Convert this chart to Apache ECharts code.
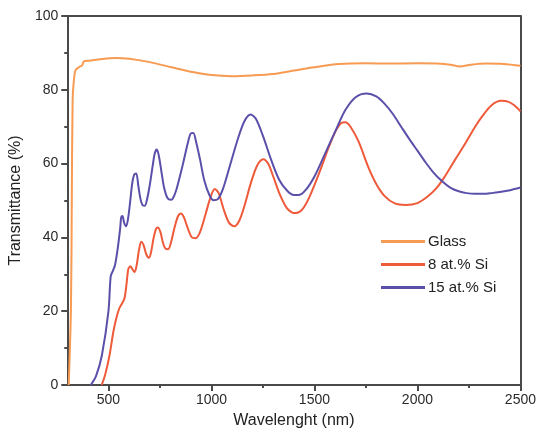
<!DOCTYPE html>
<html>
<head>
<meta charset="utf-8">
<script src="https://cdn.jsdelivr.net/npm/echarts@6/dist/echarts.min.js"></script>
<style>
  html, body { margin: 0; padding: 0; background: #fff; }
  #chart { width: 539px; height: 434px; }
</style>
</head>
<body>
<div id="chart"></div>
<script>
// Transmittance spectra (wavelength in nm, transmittance in %)
const glassWavelength = [307, 318, 322, 326, 333, 341, 362, 372, 381, 405, 450, 533, 600, 700, 800, 900, 1000, 1100, 1200, 1300, 1400, 1500, 1619, 1750, 1857, 2000, 2095, 2160, 2205, 2260, 2333, 2420, 2500];
const glassValues = [0, 21, 50, 77, 83, 85.4, 86.3, 86.6, 87.7, 87.9, 88.2, 88.6, 88.4, 87.5, 86.2, 84.9, 84.0, 83.7, 83.9, 84.3, 85.2, 86.1, 87.0, 87.2, 87.1, 87.2, 87.1, 86.8, 86.3, 86.8, 87.1, 87.0, 86.5];

const si8Wavelength = [467, 484, 505, 524, 540, 553, 565, 578, 588, 596, 606, 615, 627, 637, 648, 659, 670, 683, 696, 706, 718, 730, 740, 752, 765, 778, 790, 803, 820, 838, 852, 866, 885, 905, 924, 945, 970, 995, 1016, 1035, 1060, 1085, 1111, 1135, 1160, 1190, 1222, 1251, 1275, 1300, 1333, 1365, 1390, 1410, 1440, 1476, 1524, 1570, 1603, 1630, 1650, 1675, 1714, 1762, 1800, 1841, 1890, 1944, 2000, 2048, 2090, 2127, 2180, 2238, 2280, 2317, 2360, 2405, 2440, 2470, 2500];
const si8Values = [0, 2.8, 8, 14.5, 18.5, 20.8, 22, 23.5, 27.5, 31.3, 32.2, 31.5, 30.6, 32.5, 36.5, 38.8, 38, 35.5, 34.5, 35.8, 39.5, 42.2, 42.7, 41.5, 38.5, 36.9, 36.8, 38.5, 42.5, 45.8, 46.5, 45.5, 42.5, 40, 39.8, 41.5, 46, 50.8, 53.1, 52, 47.5, 44, 43, 44.5, 48.5, 54.5, 59.5, 61.2, 60, 56.5, 51.5, 48, 46.8, 46.6, 47.5, 51, 57.6, 64.5, 68.8, 71, 71.2, 70, 66, 59, 54.5, 51.2, 49.2, 48.8, 49.3, 51, 53.2, 56, 60.8, 66, 70, 73, 75.8, 77, 76.8, 75.8, 74.2];

const si15Wavelength = [414, 440, 468, 500, 511, 522, 532, 545, 557, 562, 568, 576, 586, 595, 605, 615, 625, 635, 645, 655, 665, 677, 688, 700, 715, 725, 735, 745, 758, 770, 785, 800, 812, 830, 860, 885, 900, 912, 925, 945, 965, 990, 1010, 1030, 1055, 1090, 1130, 1160, 1190, 1215, 1250, 1290, 1330, 1370, 1400, 1425, 1460, 1500, 1550, 1603, 1650, 1700, 1754, 1800, 1841, 1880, 1921, 1960, 2000, 2040, 2079, 2120, 2159, 2200, 2238, 2280, 2320, 2360, 2400, 2450, 2500];
const si15Values = [0, 2.5, 8, 20, 29.5, 31, 32.5, 37, 42.5, 45.5, 45.8, 44, 43, 45, 49.5, 54.5, 57, 57.3, 54, 50.5, 48.8, 48.6, 50.5, 54, 59.5, 62.8, 63.8, 62, 57.5, 53.5, 50.8, 50.2, 50.5, 53, 59.5, 65.5, 68.2, 68.3, 66, 61, 55.5, 51.5, 50.1, 50.3, 53, 59.5, 67, 71.5, 73.3, 72.2, 67.5, 61, 55.5, 52.5, 51.5, 51.5, 53, 56.5, 62.5, 69, 74.5, 78, 79, 78.2, 76.2, 73.5, 70, 66.7, 63.5, 60.3, 57.5, 55.2, 53.5, 52.5, 52, 51.8, 51.8, 52, 52.3, 52.8, 53.5];

const yTicks = [0, 20, 40, 60, 80, 100];
const xMajorTicks = [500, 1000, 1500, 2000, 2500];
const xMinorTicks = [750, 1250, 1750, 2250];

const seriesNames = ['Glass', '8 at.% Si', '15 at.% Si'];
const seriesColors = ['#F79A52', '#EF5A3A', '#5A50AA'];

function zip(xs, ys) { return xs.map((x, i) => [x, ys[i]]); }

const axisColor = '#4a4a4a';
const fontFamily = 'Liberation Sans, Arial, sans-serif';
const labelStyle = { color: '#2a2a2a', fontSize: 14, fontFamily };

const chart = echarts.init(document.getElementById('chart'), null, { renderer: 'canvas' });

chart.setOption({
  animation: false,
  backgroundColor: '#ffffff',
  grid: { left: 63, right: 15, top: 16, bottom: 47, containLabel: false },
  legend: {
    data: seriesNames,
    orient: 'vertical',
    left: 376,
    top: 229,
    itemWidth: 44,
    itemHeight: 3,
    itemGap: 8,
    icon: 'rect',
    textStyle: { color: '#222', fontSize: 15, fontFamily, padding: [0, 0, 0, -2] }
  },
  xAxis: [
    {
      type: 'value', min: 300, max: 2500,
      name: 'Wavelenght (nm)', nameLocation: 'middle', nameGap: 28,
      nameTextStyle: { color: '#222', fontSize: 16, fontFamily },
      axisLine: { show: true, onZero: false, lineStyle: { color: axisColor, width: 2 } },
      axisTick: { show: true, customValues: xMajorTicks, length: 6, lineStyle: { color: axisColor, width: 2 } },
      axisLabel: { show: true, customValues: xMajorTicks, margin: 8, formatter: v => String(v), ...labelStyle },
      splitLine: { show: false }
    },
    {
      type: 'value', min: 300, max: 2500, position: 'bottom',
      axisLine: { show: false },
      axisTick: { show: true, customValues: xMinorTicks, length: 3, lineStyle: { color: axisColor, width: 2 } },
      axisLabel: { show: false },
      splitLine: { show: false }
    },
    {
      type: 'value', min: 300, max: 2500, position: 'top',
      axisLine: { show: true, onZero: false, lineStyle: { color: axisColor, width: 2 } },
      axisTick: { show: false }, axisLabel: { show: false }, splitLine: { show: false }
    }
  ],
  yAxis: [
    {
      type: 'value', min: 0, max: 100, interval: 20,
      name: 'Transmittance (%)', nameLocation: 'middle', nameGap: 40,
      nameTextStyle: { color: '#222', fontSize: 16, fontFamily },
      axisLine: { show: true, onZero: false, lineStyle: { color: axisColor, width: 2 } },
      axisTick: { show: true, length: 6, lineStyle: { color: axisColor, width: 2 } },
      minorTick: { show: true, splitNumber: 2, length: 3, lineStyle: { color: axisColor, width: 2 } },
      axisLabel: { margin: 9, ...labelStyle, formatter: v => yTicks.includes(v) ? String(v) : '' },
      splitLine: { show: false }
    },
    {
      type: 'value', min: 0, max: 100, position: 'right',
      axisLine: { show: true, onZero: false, lineStyle: { color: axisColor, width: 2 } },
      axisTick: { show: false }, axisLabel: { show: false }, splitLine: { show: false }
    }
  ],
  series: [
    { name: seriesNames[0], type: 'line', data: zip(glassWavelength, glassValues) },
    { name: seriesNames[1], type: 'line', data: zip(si8Wavelength, si8Values) },
    { name: seriesNames[2], type: 'line', data: zip(si15Wavelength, si15Values) }
  ].map((s, i) => ({
    ...s,
    xAxisIndex: 0, yAxisIndex: 0,
    smooth: 0.3,
    showSymbol: false,
    color: seriesColors[i],
    lineStyle: { color: seriesColors[i], width: 2 },
    clip: true
  }))
});
</script>
</body>
</html>
